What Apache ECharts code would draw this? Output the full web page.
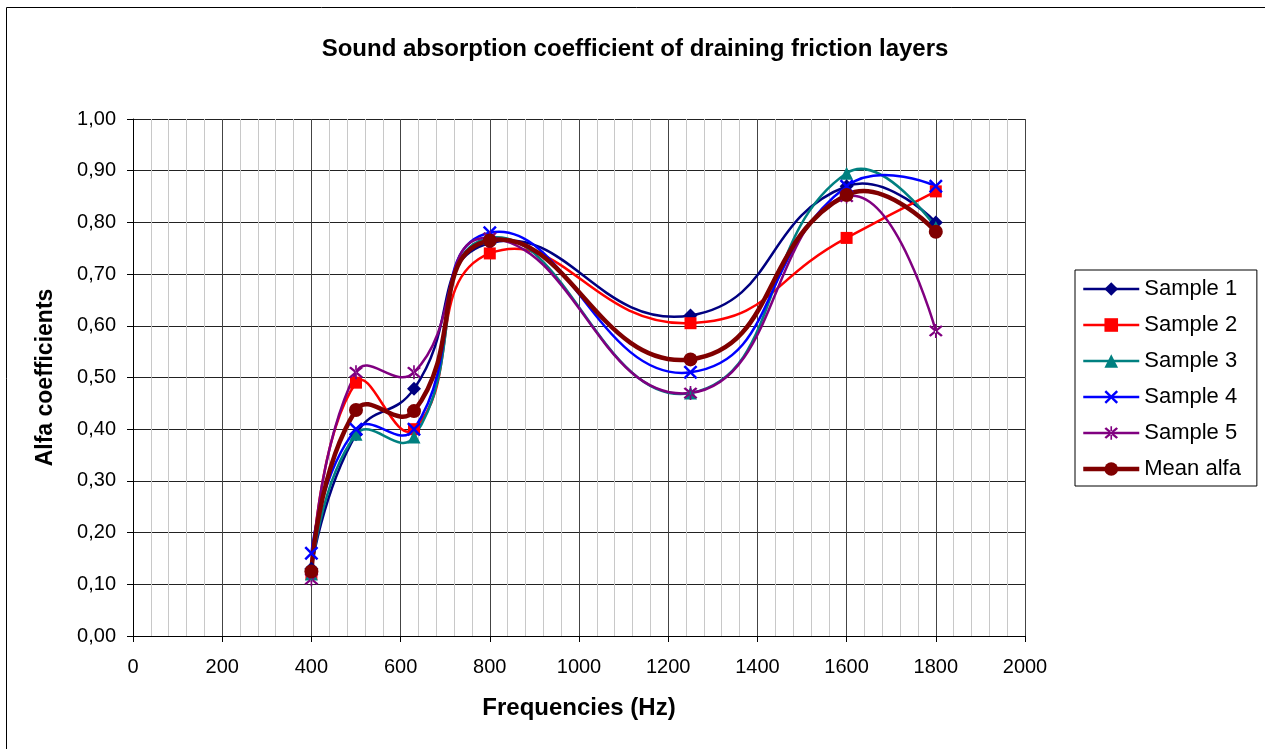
<!DOCTYPE html>
<html>
<head>
<meta charset="utf-8">
<script src="https://cdn.jsdelivr.net/npm/echarts@6/dist/echarts.min.js"></script>
<style>
  html, body { margin: 0; padding: 0; background: #fff; }
  #chart-container { width: 1265px; height: 749px; }
</style>
</head>
<body>
<div id="chart-container"></div>
<script>
// frequencies (Hz)
var freqs = [400, 500, 630, 800, 1250, 1600, 1800];
// absorption coefficients
var sample1 = [0.13, 0.39, 0.478, 0.76, 0.62, 0.87, 0.80];
var sample2 = [0.12, 0.49, 0.40, 0.74, 0.605, 0.77, 0.86];
var sample3 = [0.12, 0.39, 0.385, 0.77, 0.47, 0.895, 0.79];
var sample4 = [0.16, 0.40, 0.40, 0.78, 0.51, 0.87, 0.87];
var sample5 = [0.11, 0.51, 0.51, 0.77, 0.47, 0.85, 0.59];
var meanAlfa = [0.125, 0.437, 0.435, 0.765, 0.535, 0.853, 0.782];

var seriesNames = ['Sample 1', 'Sample 2', 'Sample 3', 'Sample 4', 'Sample 5', 'Mean alfa'];

var FONT = '"Liberation Sans", Arial, sans-serif';

// 符号 (x / asterisk)
var xPath = 'path://M0,2.5 L2.5,0 L10,7.5 L17.5,0 L20,2.5 L12.5,10 L20,17.5 L17.5,20 L10,12.5 L2.5,20 L0,17.5 L7.5,10 Z';
var starPath = 'path://M0,2.5 L2.5,0 L10,7.5 L17.5,0 L20,2.5 L12.5,10 L20,17.5 L17.5,20 L10,12.5 L2.5,20 L0,17.5 L7.5,10 Z M8.8,-2 L8.8,22 L11.2,22 L11.2,-2 Z';

function pairs(ys) {
    return freqs.map(function (f, i) { return [f, ys[i]]; });
}

// markers only (line hidden), the curve is drawn by the custom series below
function markSeries(name, ys, color, symbol, size, width) {
    return {
        name: name,
        type: 'line',
        data: pairs(ys),
        symbol: symbol,
        symbolSize: size,
        showAllSymbol: true,
        lineStyle: { color: color, width: width, opacity: 0 },
        itemStyle: { color: color },
        emphasis: { disabled: true },
        z: 3
    };
}

// Excel-like smoothed curve, one bezier segment per point
var K = 0.5;
function curveSeries(name, ys, color, width) {
    var n = freqs.length;
    return {
        name: name + ' curve',
        type: 'custom',
        data: pairs(ys),
        encode: { x: 0, y: 1 },
        silent: true,
        z: 2,
        renderItem: function (params, api) {
            var i = params.dataIndex;
            if (i >= n - 1) return null;
            var P = function (k) { return api.coord([freqs[k], ys[k]]); };
            var dist = function (a, b) { return Math.sqrt((a[0] - b[0]) * (a[0] - b[0]) + (a[1] - b[1]) * (a[1] - b[1])); };
            var p1 = P(i), p2 = P(i + 1);
            var d12 = dist(p1, p2);
            var c1 = [p1[0], p1[1]], c2 = [p2[0], p2[1]];
            if (i > 0) {
                var p0 = P(i - 1);
                var r1 = d12 / (dist(p0, p1) + d12);
                c1 = [p1[0] + K * r1 * (p2[0] - p0[0]), p1[1] + K * r1 * (p2[1] - p0[1])];
            }
            if (i + 2 < n) {
                var p3 = P(i + 2);
                var r2 = d12 / (d12 + dist(p2, p3));
                c2 = [p2[0] - K * r2 * (p3[0] - p1[0]), p2[1] - K * r2 * (p3[1] - p1[1])];
            }
            return {
                type: 'bezierCurve',
                shape: {
                    x1: p1[0], y1: p1[1], x2: p2[0], y2: p2[1],
                    cpx1: c1[0], cpy1: c1[1], cpx2: c2[0], cpy2: c2[1]
                },
                style: { stroke: color, lineWidth: width, fill: null }
            };
        }
    };
}

var container = document.getElementById('chart-container');
var myChart = echarts.init(container);

var defs = [
    ['Sample 1', sample1, '#000080', 'diamond', 14, 2.5],
    ['Sample 2', sample2, '#ff0000', 'rect', 12, 2.5],
    ['Sample 3', sample3, '#008080', 'triangle', 13, 2.5],
    ['Sample 4', sample4, '#0000ff', xPath, 14, 2.5],
    ['Sample 5', sample5, '#800080', starPath, 14, 2.5],
    ['Mean alfa', meanAlfa, '#800000', 'circle', 14, 4.5]
];
var series = [];
defs.forEach(function (d) {
    series.push(curveSeries(d[0], d[1], d[2], d[5]));
    series.push(markSeries(d[0], d[1], d[2], d[3], d[4], d[5]));
});

var legendData = defs.map(function (d) {
    return { name: d[0], lineStyle: { width: d[5], opacity: 1 } };
});

myChart.setOption({
    animation: false,
    textStyle: { fontFamily: FONT },
    title: {
        text: 'Sound absorption coefficient of draining friction layers',
        left: 630,
        textAlign: 'center',
        top: 32,
        textStyle: { fontFamily: FONT, fontSize: 24, fontWeight: 'bold', color: '#000' }
    },
    graphic: [{
        type: 'rect',
        shape: { x: 6.5, y: 7.5, width: 1300, height: 800 },
        style: { fill: 'none', stroke: '#000', lineWidth: 1 },
        silent: true
    }],
    legend: {
        orient: 'vertical',
        left: 1075,
        top: 270,
        padding: [8, 16, 6, 6],
        itemGap: 14,
        itemWidth: 56,
        itemHeight: 17,
        borderColor: '#000',
        borderWidth: 1,
        data: legendData,
        lineStyle: { opacity: 1 },
        textStyle: { fontFamily: FONT, fontSize: 22, color: '#000' }
    },
    grid: { left: 133, right: 240, top: 119, bottom: 113 },
    xAxis: {
        type: 'value',
        min: 0,
        max: 2000,
        interval: 200,
        name: 'Frequencies (Hz)',
        nameLocation: 'middle',
        nameGap: 60,
        nameTextStyle: { fontFamily: FONT, fontSize: 24, fontWeight: 'bold', color: '#000' },
        axisLine: { onZero: false, lineStyle: { color: '#000', width: 1 } },
        axisTick: { show: true, length: 6, inside: false, lineStyle: { color: '#000' } },
        axisLabel: {
            fontFamily: FONT, fontSize: 20, color: '#000', margin: 21,
            formatter: function (v) { return String(v); }
        },
        splitLine: { show: true, lineStyle: { color: '#444', width: 1 } },
        minorTick: { show: false, splitNumber: 5 },
        minorSplitLine: { show: true, lineStyle: { color: '#c8c8c8', width: 1 } }
    },
    yAxis: {
        type: 'value',
        min: 0,
        max: 1,
        interval: 0.1,
        name: 'Alfa coefficients',
        nameLocation: 'middle',
        nameGap: 76,
        nameTextStyle: { fontFamily: FONT, fontSize: 23, fontWeight: 'bold', color: '#000' },
        axisLine: { show: true, lineStyle: { color: '#000', width: 1 } },
        axisTick: { show: true, length: 6, inside: false, lineStyle: { color: '#000' } },
        axisLabel: {
            fontFamily: FONT, fontSize: 20, color: '#000', margin: 17,
            formatter: function (v) { return v.toFixed(2).replace('.', ','); }
        },
        splitLine: { show: true, lineStyle: { color: '#222', width: 1 } }
    },
    series: series
});
</script>
</body>
</html>
